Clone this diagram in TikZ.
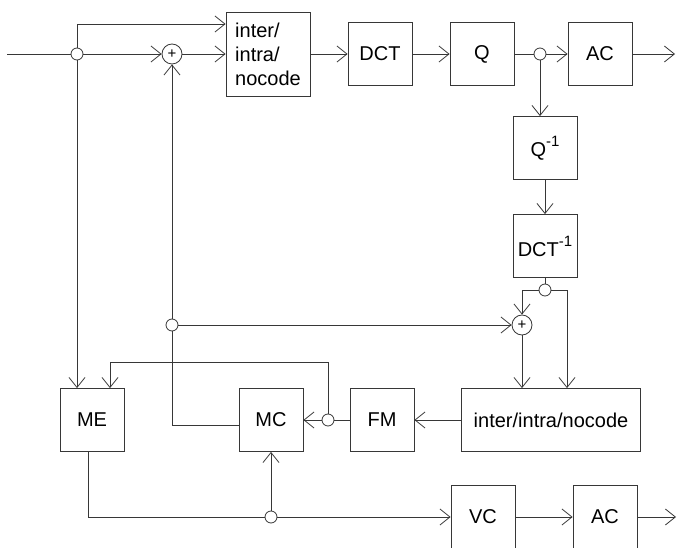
\documentclass[tikz,border=0pt]{standalone}
\usepackage{fontspec}
\setmainfont{Liberation Sans}
\usetikzlibrary{arrows.meta}
\definecolor{Traco}{RGB}{55,55,55}
\newcommand{\inversa}{\raisebox{0.5em}{\fontsize{15}{15}\selectfont -1}}
\tikzset{
  bloco/.style={draw=Traco, line width=0.8pt, minimum width=64pt, minimum height=63pt,
                inner sep=2pt, align=center, font=\fontsize{20}{24}\selectfont},
  juncao/.style={circle, draw=Traco, fill=white, line width=0.8pt, minimum size=12pt, inner sep=0pt},
  soma/.style={circle, draw=Traco, fill=white, line width=0.8pt, minimum size=20pt,
               inner sep=0pt, font=\fontsize{15}{15}\selectfont},
  seta/.style={-{Straight Barb[length=10pt,width=16pt,line width=0.8pt]}, Traco, line width=0.8pt},
  linha/.style={Traco, line width=0.8pt},
}

\begin{document}
\begin{tikzpicture}[x=1pt, y=-1pt]
  \useasboundingbox (0,0) rectangle (678,548);

  % Caminho direto
  \coordinate (ent) at (7,54);
  \node[juncao] (j1) at (77,54) {};
  \node[soma] (s1) at (172,54) {+};
  \node[bloco, minimum width=84pt, minimum height=84pt, align=left] (modo) at (268,54) {inter/\\intra/\\nocode};
  \node[bloco] (dct) at (380,54) {DCT};
  \node[bloco] (q) at (482,54) {Q};
  \node[juncao] (j2) at (540,54) {};
  \node[bloco] (ac) at (600,54) {AC};
  \coordinate (saida1) at (675,54);

  % Reconstrucao
  \node[bloco] (qinv) at (545,148) {Q\inversa};
  \node[bloco] (dctinv) at (545,246) {DCT\inversa};
  \node[juncao] (j3) at (545,290) {};
  \node[soma] (s2) at (522,325) {+};
  \node[juncao] (j5) at (172,325) {};
  \node[bloco, minimum width=179pt] (grande) at (551,420) {inter/intra/nocode};

  % Compensacao / estimacao de movimento
  \node[bloco] (fm) at (382,420) {FM};
  \node[juncao] (j4) at (328,420) {};
  \node[bloco] (mc) at (271,420) {MC};
  \node[bloco] (me) at (92,420) {ME};
  \node[juncao] (j6) at (271,517) {};
  \node[bloco] (vc) at (483,517) {VC};
  \node[bloco] (ac2) at (605,517) {AC};
  \coordinate (saida2) at (676,517);

  % Ligacoes
  \draw[linha] (ent) -- (j1);
  \draw[seta] (j1) -- (s1);
  \draw[seta] (s1) -- (modo);
  \draw[seta] (j1) |- ([yshift=30pt]modo.west);
  \draw[seta] (modo) -- (dct);
  \draw[seta] (dct) -- (q);
  \draw[linha] (q) -- (j2);
  \draw[seta] (j2) -- (ac);
  \draw[seta] (ac) -- (saida1);
  \draw[seta] (j2) -- (j2 |- qinv.north);
  \draw[seta] (qinv) -- (dctinv);
  \draw[linha] (dctinv) -- (j3);
  \draw[seta] (j3) -| (s2);
  \draw[seta] (j3) -| ([xshift=16pt]grande.north);
  \draw[seta] (s2) -- (s2 |- grande.north);
  \draw[seta] (grande) -- (fm);
  \draw[linha] (fm) -- (j4);
  \draw[seta] (j4) -- (mc);
  \draw[seta] (j4) -- ++(0,-58) -| ([xshift=18pt]me.north);
  \draw[seta] (j1) -- (j1 |- me.north);
  \draw[linha] ([yshift=-5pt]mc.west) -| (j5.south);
  \draw[seta] (j5) -- (s1);
  \draw[seta] (j5) -- (s2);
  \draw[linha] ([xshift=-4pt]me.south) |- (j6);
  \draw[seta] (j6) -- (mc);
  \draw[seta] (j6) -- (vc);
  \draw[seta] (vc) -- (ac2);
  \draw[seta] (ac2) -- (saida2);
\end{tikzpicture}
\end{document}
